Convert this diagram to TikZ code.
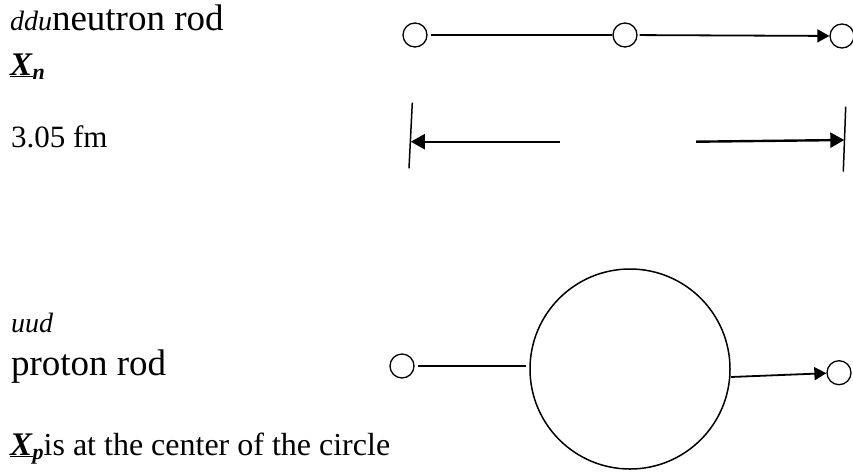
\documentclass[tikz,border=0pt]{standalone}
\usepackage{fontspec}
\setmainfont{Liberation Serif}
\usetikzlibrary{arrows.meta}
\tikzset{
  lbl/.style={anchor=base west, inner sep=0pt, outer sep=0pt},
  quark/.style={circle, draw, line width=1.3pt, minimum size=24pt, inner sep=0pt},
  rodthin/.style={line width=1.2pt, shorten <=3pt},
  rodarrow/.style={line width=1.8pt, shorten <=2pt, -{Triangle[length=12pt,width=13pt]}},
  dimarrow/.style={line width=2.4pt, -{Triangle[length=14pt,width=15pt]}},
  dimbar/.style={line width=1.5pt}
}
\newcommand{\fs}[1]{\fontsize{#1}{#1}\selectfont}
\begin{document}
\begin{tikzpicture}[x=1pt,y=-1pt]
\useasboundingbox (0,0) rectangle (853,475);
% texts
\node[lbl] (t1) at (10,30) {{\fs{28}\itshape ddu}{\fs{37}neutron rod}};
\node[lbl] (t2) at (10,75) {\fs{33}\underline{\textbf{\textit{X}}}\raisebox{-4pt}{\fs{22}\textbf{\textit{n}}}};
\node[lbl] (t3) at (11,147) {\fs{31}3.05 fm};
\node[lbl] (t4) at (11,332) {\fs{28}\itshape uud};
\node[lbl] (t5) at (11,375) {\fs{37}proton rod};
\node[lbl] (t6) at (10,455) {\fs{33}\underline{\textbf{\textit{X}}}\raisebox{-4pt}{\fs{22}\textbf{\textit{p}}}\fs{32}is at the center of the circle};
% neutron rod
\node[quark] (n1) at (415,35) {};
\node[quark] (n2) at (625,35) {};
\node[quark] (n3) at (842,36) {};
\draw[rodthin] (n1) -- (n2);
\draw[rodarrow] (n2) -- (n3);
% dimension
\coordinate (bl1) at (412.3,102.7);
\coordinate (bl2) at (409,168.3);
\coordinate (br1) at (845.7,106.7);
\coordinate (br2) at (843.3,171.7);
\draw[dimbar] (bl1) -- (bl2);
\draw[dimbar] (br1) -- (br2);
\coordinate (la) at (560,141.7);
\coordinate (lt) at (410.8,141.7);
\coordinate (ra) at (696,141.7);
\coordinate (rt) at (844.3,140);
\draw[dimarrow] (la) -- (lt);
\draw[dimarrow] (ra) -- (rt);
% proton rod
\node[circle, draw, line width=1.5pt, minimum size=200pt, inner sep=0pt] (big) at (630,369) {};
\node[quark] (p1) at (402,366) {};
\node[quark] (p2) at (839,372.7) {};
\draw[rodthin, shorten >=3pt] (p1) -- (p1 -| big.west);
\draw[rodarrow, shorten <=0pt] ([yshift=-8pt]big.east) -- (p2);
\end{tikzpicture}
\end{document}
